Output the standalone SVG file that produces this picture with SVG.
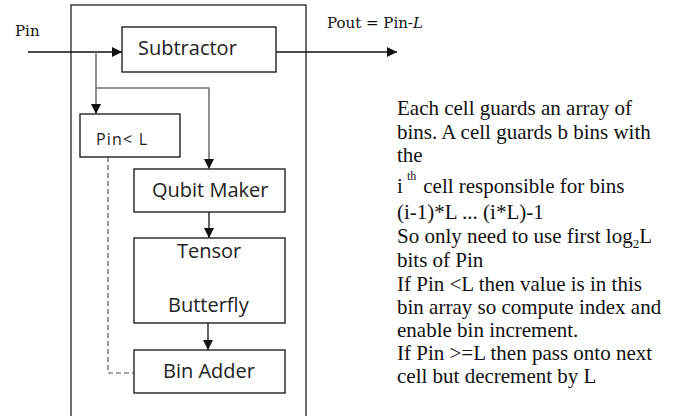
<svg xmlns="http://www.w3.org/2000/svg" width="678" height="416" viewBox="0 0 678 416">
  <defs>
    <marker id="arrow" viewBox="0 0 10 10" refX="10" refY="5" markerWidth="11" markerHeight="10" markerUnits="userSpaceOnUse" orient="auto">
      <path d="M0,0 L10,5 L0,10 z" fill="#111"/>
    </marker>
    <style>
      .box { fill: #fff; stroke: #222; stroke-width: 1.4; }
      .frame { fill: none; stroke: #333; stroke-width: 1.4; }
      .lbl { font-family: "Open Sans", "Liberation Sans", sans-serif; font-size: 20px; fill: #222; }
      .serif { font-family: "DejaVu Serif", "Liberation Serif", serif; font-size: 15px; fill: #111; }
      .note { font-family: "Liberation Serif", "Times New Roman", serif; font-size: 21px; fill: #111; }
      .wire { fill: none; stroke: #111; stroke-width: 1.3; }
      .grey { fill: none; stroke: #777; stroke-width: 1.6; }
      .dash { fill: none; stroke: #888; stroke-width: 1.6; stroke-dasharray: 5 3; }
    </style>
  </defs>

  <!-- cell frame -->
  <rect class="frame" x="71" y="5" width="235" height="430"/>

  <!-- external labels -->
  <text class="serif" x="15" y="36">Pin</text>
  <text class="serif" x="327" y="28">Pout = Pin-<tspan font-style="italic">L</tspan></text>

  <!-- connectors -->
  <g id="connectors">
    <path class="wire" d="M28,52 H122" marker-end="url(#arrow)"/>
    <path class="wire" d="M276,52 H397" marker-end="url(#arrow)"/>
    <path class="grey" d="M96,52 V114" marker-end="url(#arrow)"/>
    <path class="grey" d="M96,88 H209 V169" marker-end="url(#arrow)"/>
    <path class="wire" d="M209,212 V238" marker-end="url(#arrow)"/>
    <path class="wire" d="M208,323 V350" marker-end="url(#arrow)"/>
    <path class="dash" d="M108,157 V373 H134"/>
  </g>

  <!-- nodes -->
  <g id="subtractor">
    <rect class="box" x="122" y="27" width="154" height="45"/>
    <text class="lbl" x="138" y="55">Subtractor</text>
  </g>
  <g id="compare">
    <rect class="box" x="80" y="114" width="100" height="43"/>
    <text class="lbl" x="96" y="145" style="font-size:16px;letter-spacing:1.2px">Pin&lt; L</text>
  </g>
  <g id="qubit-maker">
    <rect class="box" x="134" y="169" width="151" height="43"/>
    <text class="lbl" x="152" y="197">Qubit Maker</text>
  </g>
  <g id="tensor-butterfly">
    <rect class="box" x="134" y="238" width="151" height="85"/>
    <text class="lbl" x="177" y="258">Tensor</text>
    <text class="lbl" x="168" y="312">Butterfly</text>
  </g>
  <g id="bin-adder">
    <rect class="box" x="134" y="350" width="151" height="43"/>
    <text class="lbl" x="163" y="378">Bin Adder</text>
  </g>

  <!-- explanatory notes -->
  <g id="notes" class="note">
    <text x="397" y="115">Each cell guards an array of</text>
    <text x="397" y="139">bins. A cell guards b bins with</text>
    <text x="397" y="162">the</text>
    <text x="397" y="193">i<tspan x="407" y="180" font-size="12">th</tspan><tspan x="418" y="193"> cell responsible for bins</tspan></text>
    <text x="397" y="219">(i-1)*L ... (i*L)-1</text>
    <text x="397" y="243">So only need to use first log<tspan dy="5" font-size="13">2</tspan><tspan dy="-5">L</tspan></text>
    <text x="397" y="267">bits of Pin</text>
    <text x="397" y="291">If Pin &lt;L then value is in this</text>
    <text x="397" y="314">bin array so compute index and</text>
    <text x="397" y="337">enable bin increment.</text>
    <text x="397" y="360">If Pin &gt;=L then pass onto next</text>
    <text x="397" y="383">cell but decrement by L</text>
  </g>
</svg>
